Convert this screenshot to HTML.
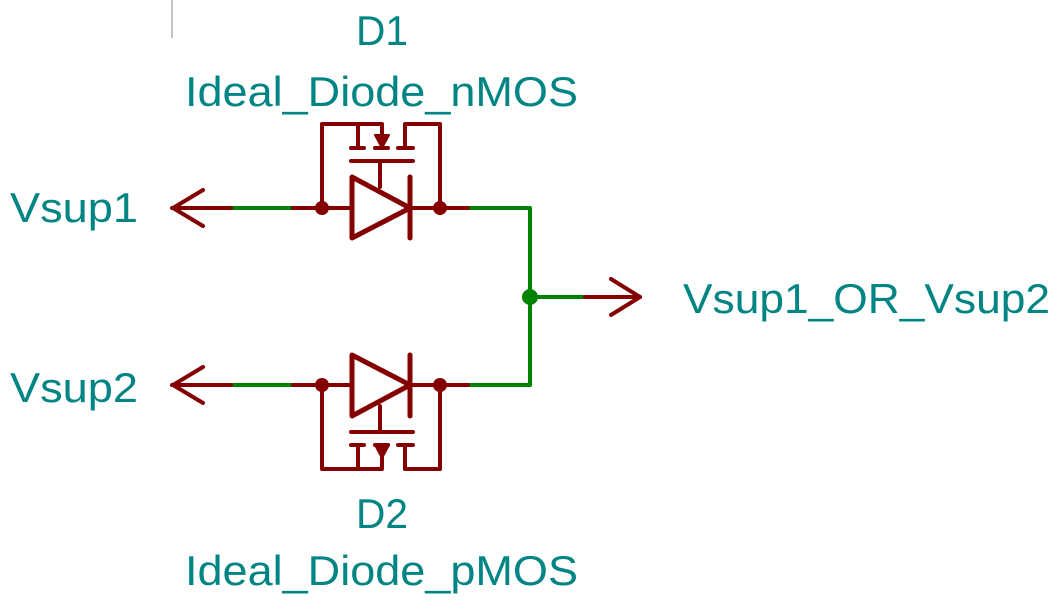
<!DOCTYPE html>
<html><head><meta charset="utf-8"><style>
html,body{margin:0;padding:0;background:#fff;width:1064px;height:613px;overflow:hidden}
text{font-family:"Liberation Sans",sans-serif;font-size:42px;fill:#008484}
</style></head><body>
<svg width="1064" height="613" viewBox="0 0 1064 613" xmlns="http://www.w3.org/2000/svg">
<line x1="172" y1="0" x2="172" y2="38" stroke="#888" stroke-width="1"/>
<g fill="none" stroke-linecap="round" stroke-linejoin="round" stroke-width="4">
<!-- green wires -->
<path d="M231 208H293 M468 208H530V385H468 M231 385H293 M530 297H585" stroke="#008400"/>
<!-- red stubs -->
<path d="M172 208H231 M293 208H352 M410 208H468 M172 385H231 M293 385H352 M410 385H468 M585 297H640" stroke="#840000"/>
<!-- arrows -->
<path d="M203 190L173 208L203 226 M203 367L173 385L203 403 M611 279L640 297L611 315" stroke="#840000"/>
<!-- D1 -->
<g stroke="#840000">
<path d="M352 177V238L410 208Z" stroke-width="5"/>
<path d="M410 177V238" stroke-width="5"/>
<path d="M322 208V124H382V148 M358 124V148 M351 148H364 M375 148H388 M398 148H413 M405 148V124H440V208 M351 161H413 M380 161V187"/>
</g>
<path d="M375 135H389L382 148Z" fill="#840000" stroke="#840000" stroke-width="2"/>
<!-- D2 -->
<g stroke="#840000">
<path d="M352 355V416L410 385Z" stroke-width="5"/>
<path d="M410 355V416" stroke-width="5"/>
<path d="M322 385V469H382V445 M358 469V445 M351 445H364 M375 445H388 M398 445H413 M405 445V469H440V385 M351 432H413 M380 432V406"/>
</g>
<path d="M375 445H389L382 458Z" fill="#840000" stroke="#840000" stroke-width="2"/>
</g>
<g fill="#840000"><circle cx="322" cy="208" r="7"/><circle cx="440" cy="208" r="7"/><circle cx="322" cy="385" r="7"/><circle cx="440" cy="385" r="7"/></g>
<circle cx="530" cy="297" r="8" fill="#008400"/>
<text x="356" y="45" textLength="52" lengthAdjust="spacingAndGlyphs">D1</text>
<text x="185" y="106" textLength="393" lengthAdjust="spacingAndGlyphs">Ideal_Diode_nMOS</text>
<text x="10" y="222" textLength="128" lengthAdjust="spacingAndGlyphs">Vsup1</text>
<text x="10" y="402" textLength="128" lengthAdjust="spacingAndGlyphs">Vsup2</text>
<text x="683" y="313" textLength="367" lengthAdjust="spacingAndGlyphs">Vsup1_OR_Vsup2</text>
<text x="356" y="528" textLength="52" lengthAdjust="spacingAndGlyphs">D2</text>
<text x="185" y="585" textLength="393" lengthAdjust="spacingAndGlyphs">Ideal_Diode_pMOS</text>
</svg>
</body></html>
